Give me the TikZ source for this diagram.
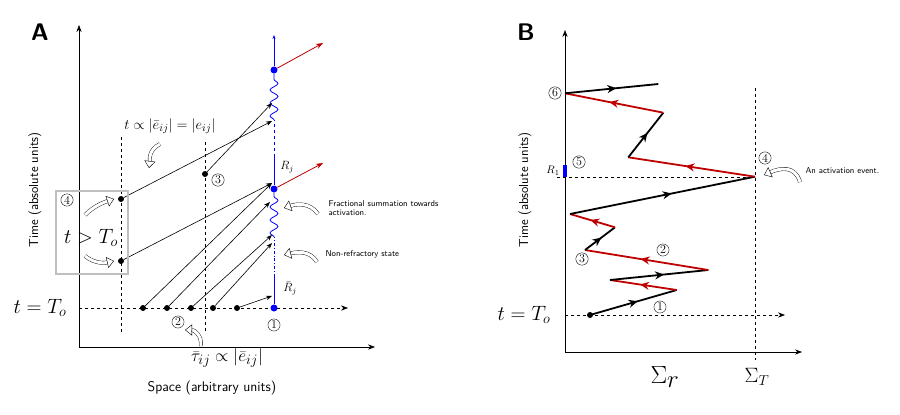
\documentclass[tikz,border=0pt]{standalone}
\usepackage{amsmath}
\usetikzlibrary{arrows.meta,decorations.pathmorphing,decorations.markings}
\newcommand{\fs}[1]{\fontsize{#1}{#1}\selectfont}
\begin{document}
\begin{tikzpicture}[x=1pt,y=-1pt,
 ax/.style={-{Stealth[length=7pt]},semithick},
 dsh/.style={dashed,semithick},
 dotn/.style={circle,fill=black,inner sep=0pt,minimum size=6pt},
 bdot/.style={circle,fill=blue,inner sep=0pt,minimum size=7pt},
 cnum/.style={circle,draw,inner sep=0.8pt,font=\fs{12}},
 sig/.style={-{Stealth[length=6pt]},semithick},
 hollow/.style={double distance=3pt,thin,-{Triangle[open,length=7pt,width=11pt]}},
 wav/.style={blue,thick,decorate,decoration={snake,amplitude=4pt,segment length=13pt}},
 mid/.style={postaction={decorate},decoration={markings,mark=at position 0.55 with {\arrow{Stealth[length=9pt,width=8pt]}}}},
 blk/.style={line width=1.8pt,black,mid},
 rd/.style={line width=1.8pt,red!75!black,mid},
 small/.style={font=\fs{8.5}\sffamily,align=left,anchor=west}]
\useasboundingbox (0,0) rectangle (900,415);
% ===== Panel A
\node[font=\sffamily\bfseries\fs{24}] (lA) at (40,32) {A};
\coordinate (oA) at (79,347);
\draw[ax] (oA) -- (79,25);
\draw[ax] (oA) -- (375,347);
\node[font=\fs{14}\sffamily] (sp) at (212,388) {Space (arbitrary units)};
\node[font=\fs{13}\sffamily,rotate=90] (tA) at (35,190) {Time (absolute units)};
\draw[dsh,-{Stealth[length=7pt]}] (79,308) -- (348,308);
\node[font=\fs{21}] (to) at (40,308) {$t=T_o$};
\draw[dsh] (121,137) -- (121,332);
\draw[dsh] (205,142) -- (205,332);
% blue neuron line
\node[bdot] (b1) at (274,308) {};
\node[bdot] (b2) at (274,189) {};
\node[bdot] (b3) at (274,70) {};
\draw[blue,thick] (b1) -- (274,277);
\draw[blue,thick,dash dot] (274,277) -- (274,237);
\draw[wav] (274,237) -- (b2);
\draw[blue,thick] (b2) -- (274,157);
\draw[blue,thick,dashed] (274,157) -- (274,120);
\draw[wav] (274,120) -- (b3);
\draw[blue,thick,-{Stealth[length=4pt]}] (b3) -- (274,35);
\coordinate (r1) at (323,43);
\coordinate (r2) at (323,163);
\draw[red!75!black,thick,-{Stealth[length=7pt]}] (b3) -- (r1);
\draw[red!75!black,thick,-{Stealth[length=7pt]}] (b2) -- (r2);
% dots
\node[dotn] (d1) at (143,308) {};
\node[dotn] (d2) at (167,308) {};
\node[dotn] (d3) at (191,308) {};
\node[dotn] (d4) at (213,308) {};
\node[dotn] (d5) at (237,308) {};
\node[dotn] (d6) at (121,199) {};
\node[dotn] (d7) at (121,261) {};
\node[dotn] (d8) at (205,174) {};
\coordinate (e1) at (272,296);
\coordinate (e2) at (272,243);
\coordinate (e3) at (272,235);
\coordinate (e4) at (270,202);
\coordinate (e5) at (272,183);
\coordinate (e6) at (272,121);
\coordinate (e7) at (272,103);
\draw[sig] (d5) -- (e1);
\draw[sig] (d4) -- (e2);
\draw[sig] (d3) -- (e3);
\draw[sig] (d2) -- (e4);
\draw[sig] (d1) -- (e5);
\draw[sig] (d6) -- (e6);
\draw[sig] (d7) -- (e5);
\draw[sig] (d8) -- (e7);
\draw[gray!50,line width=1.8pt] (56,191) rectangle (128,274);
\node[cnum] (n4) at (67,200) {4};
\node[font=\fs{21}] (tgt) at (91,238) {$t>T_o$};
\node[cnum] (n3) at (218,180) {3};
\node[cnum] (n2) at (178,322) {2};
\node[cnum] (n1) at (274,325) {1};
\node[font=\fs{15}] (lab1) at (170,126) {$t\propto|\bar e_{ij}|=|e_{ij}|$};
\node[font=\fs{19}] (lab2) at (227,358) {$\bar\tau_{ij}\propto|\bar e_{ij}|$};
\node[font=\fs{12}] (Rj) at (287,167) {$R_j$};
\node[font=\fs{12}] (Rbj) at (290,288) {$\bar R_j$};
\node[small] (fr) at (325,208) {Fractional summation towards\\activation.};
\node[small] (nr) at (322,254) {Non-refractory state};
\draw[hollow] (160,144) .. controls (148,150) and (150,160) .. (149,168);
\draw[hollow] (85,215) .. controls (95,205) and (105,202) .. (114,199);
\draw[hollow] (85,256) .. controls (95,264) and (105,263) .. (114,261);
\draw[hollow] (318,214) .. controls (310,202) and (296,204) .. (284,208);
\draw[hollow] (317,262) .. controls (310,250) and (296,252) .. (284,255);
\draw[hollow] (201,346) .. controls (202,335) and (194,330) .. (185,330);
% ===== Panel B
\node[font=\sffamily\bfseries\fs{24}] (lB) at (526,32) {B};
\coordinate (oB) at (565,352);
\draw[ax] (oB) -- (565,30);
\draw[ax] (oB) -- (802,352);
\node[font=\fs{13}\sffamily,rotate=90] (tB) at (525,190) {Time (absolute units)};
\draw[dsh,-{Stealth[length=7pt]}] (565,315) -- (785,315);
\node[font=\fs{21}] (toB) at (524,315) {$t=T_o$};
\draw[dsh] (755,88) -- (755,360);
\draw[dsh] (557,177) -- (755,177);
\coordinate (p0) at (590,315);
\coordinate (p1) at (676.7,290);
\coordinate (p2) at (610,280);
\coordinate (p3) at (708.3,270);
\coordinate (p4) at (585,250);
\coordinate (p5) at (615,227.3);
\coordinate (p6) at (570,214);
\coordinate (p7) at (755,176.7);
\coordinate (p8) at (628.3,157.3);
\coordinate (p9) at (663.3,112.7);
\coordinate (p10) at (565,93.3);
\coordinate (p11) at (658.3,84);
\draw[blk] (p0) -- (p1);
\draw[rd] (p1) -- (p2);
\draw[blk] (p2) -- (p3);
\draw[rd] (p3) -- (p4);
\draw[blk] (p4) -- (p5);
\draw[rd] (p5) -- (p6);
\draw[blk] (p6) -- (p7);
\draw[rd] (p7) -- (p8);
\draw[blk] (p8) -- (p9);
\draw[rd] (p9) -- (p10);
\draw[blk] (p10) -- (p11);
\node[dotn] (s0) at (p0) {};
\draw[blue,line width=3.5pt] (565,165) -- (565,177);
\node[cnum] (m1) at (660,307) {1};
\node[cnum] (m2) at (663,250) {2};
\node[cnum] (m3) at (582,259) {3};
\node[cnum] (m4) at (765,158) {4};
\node[cnum] (m5) at (579,162) {5};
\node[cnum] (m6) at (555,93) {6};
\node[font=\fs{11}] (R1) at (553,171) {$R_1$};
\node[font=\fs{34}] (sr) at (665,377) {$\Sigma_r$};
\node[font=\fs{21}] (sT) at (757,377) {$\Sigma_T$};
\node[small] (ae) at (802,171) {An activation event.};
\draw[hollow] (800,182) .. controls (795,165) and (780,168) .. (764,175);
\end{tikzpicture}
\end{document}
